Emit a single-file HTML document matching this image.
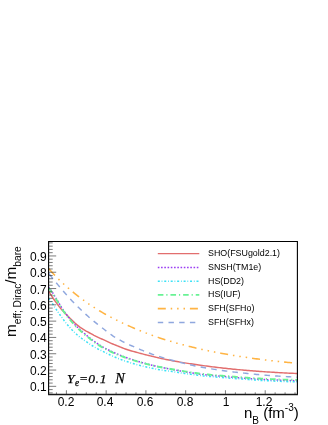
<!DOCTYPE html><html><head><meta charset="utf-8"><title>chart</title><style>
html,body{margin:0;padding:0;background:#fff;overflow:hidden}
html{width:328px;height:425px}
body{width:328px;height:425px;position:relative;overflow:hidden;font-family:"Liberation Sans",sans-serif;color:#000}
.t{position:absolute;white-space:nowrap;line-height:1;will-change:transform}
.xl{font-size:12px;transform:translateX(-50%);top:395.6px}
.yl{font-size:12px;right:281.6px}
.lg{font-size:8.9px;left:208.2px}

#w{position:absolute;left:0;top:0;width:328px;height:425px;overflow:hidden;background:#fff}
</style></head><body><div id="w">
<svg width="328" height="425" viewBox="0 0 328 425" style="position:absolute;left:0;top:0">
<rect x="0" y="0" width="328" height="425" fill="#fff"/>
<g>
<path d="M48.60,290.96 L50.16,293.57 L51.73,296.05 L53.29,298.51 L54.86,300.77 L56.42,302.92 L57.99,305.02 L59.55,307.04 L61.12,308.92 L62.68,310.69 L64.25,312.35 L65.81,313.93 L67.38,315.56 L68.94,317.19 L70.51,318.78 L72.07,320.30 L73.64,321.82 L75.20,323.29 L76.77,324.64 L78.33,325.86 L79.90,327.04 L81.46,328.15 L83.03,329.19 L84.59,330.14 L86.15,331.04 L87.72,331.89 L89.28,332.74 L90.85,333.58 L92.41,334.45 L93.98,335.29 L95.54,336.08 L97.11,336.84 L98.67,337.58 L100.24,338.31 L101.80,339.01 L103.37,339.71 L104.93,340.42 L106.50,341.16 L108.06,341.90 L109.63,342.61 L111.19,343.29 L112.76,343.96 L114.32,344.61 L115.89,345.25 L117.45,345.88 L119.02,346.51 L120.58,347.14 L122.14,347.76 L123.71,348.37 L125.27,348.95 L126.84,349.50 L128.40,350.01 L129.97,350.49 L131.53,350.95 L133.10,351.39 L134.66,351.82 L136.23,352.24 L137.79,352.66 L139.36,353.08 L140.92,353.50 L142.49,353.92 L144.05,354.33 L145.62,354.73 L147.18,355.13 L148.75,355.52 L150.31,355.91 L151.88,356.29 L153.44,356.66 L155.01,357.03 L156.57,357.39 L158.13,357.74 L159.70,358.09 L161.26,358.44 L162.83,358.77 L164.39,359.11 L165.96,359.43 L167.52,359.75 L169.09,360.07 L170.65,360.37 L172.22,360.68 L173.78,360.97 L175.35,361.26 L176.91,361.55 L178.48,361.83 L180.04,362.10 L181.61,362.36 L183.17,362.62 L184.74,362.87 L186.30,363.12 L187.87,363.36 L189.43,363.60 L190.99,363.83 L192.56,364.06 L194.12,364.29 L195.69,364.52 L197.25,364.75 L198.82,364.97 L200.38,365.20 L201.95,365.42 L203.51,365.64 L205.08,365.86 L206.64,366.07 L208.21,366.28 L209.77,366.48 L211.34,366.68 L212.90,366.88 L214.47,367.07 L216.03,367.27 L217.60,367.45 L219.16,367.64 L220.73,367.82 L222.29,368.00 L223.86,368.17 L225.42,368.34 L226.98,368.51 L228.55,368.68 L230.11,368.84 L231.68,369.00 L233.24,369.16 L234.81,369.31 L236.37,369.46 L237.94,369.61 L239.50,369.76 L241.07,369.90 L242.63,370.04 L244.20,370.18 L245.76,370.32 L247.33,370.45 L248.89,370.58 L250.46,370.71 L252.02,370.83 L253.59,370.95 L255.15,371.07 L256.72,371.19 L258.28,371.31 L259.85,371.42 L261.41,371.53 L262.97,371.64 L264.54,371.75 L266.10,371.85 L267.67,371.96 L269.23,372.06 L270.80,372.15 L272.36,372.25 L273.93,372.34 L275.49,372.44 L277.06,372.52 L278.62,372.61 L280.19,372.70 L281.75,372.78 L283.32,372.86 L284.88,372.94 L286.45,373.02 L288.01,373.10 L289.58,373.17 L291.14,373.25 L292.71,373.32 L294.27,373.39 L295.84,373.45 L297.40,373.52" fill="none" stroke="#e26e6e" stroke-width="1.45"/>
<path d="M48.60,287.11 L50.16,289.06 L51.73,291.31 L53.29,293.73 L54.86,296.27 L56.42,298.86 L57.99,301.46 L59.55,304.07 L61.12,306.67 L62.68,309.19 L64.25,311.54 L65.81,313.70 L67.38,315.72 L68.94,317.66 L70.51,319.58 L72.07,321.45 L73.64,323.26 L75.20,324.98 L76.77,326.62 L78.33,328.14 L79.90,329.52 L81.46,330.89 L83.03,332.31 L84.59,333.68 L86.15,335.00 L87.72,336.26 L89.28,337.50 L90.85,338.74 L92.41,339.98 L93.98,341.17 L95.54,342.29 L97.11,343.39 L98.67,344.45 L100.24,345.46 L101.80,346.43 L103.37,347.32 L104.93,348.16 L106.50,348.97 L108.06,349.76 L109.63,350.52 L111.19,351.26 L112.76,351.99 L114.32,352.70 L115.89,353.41 L117.45,354.09 L119.02,354.74 L120.58,355.37 L122.14,355.99 L123.71,356.59 L125.27,357.17 L126.84,357.74 L128.40,358.29 L129.97,358.84 L131.53,359.36 L133.10,359.88 L134.66,360.39 L136.23,360.88 L137.79,361.36 L139.36,361.82 L140.92,362.27 L142.49,362.71 L144.05,363.14 L145.62,363.56 L147.18,363.98 L148.75,364.38 L150.31,364.78 L151.88,365.17 L153.44,365.55 L155.01,365.92 L156.57,366.29 L158.13,366.65 L159.70,366.99 L161.26,367.32 L162.83,367.64 L164.39,367.95 L165.96,368.25 L167.52,368.55 L169.09,368.85 L170.65,369.14 L172.22,369.44 L173.78,369.74 L175.35,370.03 L176.91,370.32 L178.48,370.60 L180.04,370.89 L181.61,371.16 L183.17,371.44 L184.74,371.71 L186.30,371.98 L187.87,372.24 L189.43,372.49 L190.99,372.75 L192.56,373.00 L194.12,373.24 L195.69,373.48 L197.25,373.71 L198.82,373.94 L200.38,374.16 L201.95,374.37 L203.51,374.56 L205.08,374.74 L206.64,374.92 L208.21,375.09 L209.77,375.25 L211.34,375.41 L212.90,375.56 L214.47,375.71 L216.03,375.86 L217.60,375.99 L219.16,376.11 L220.73,376.23 L222.29,376.34 L223.86,376.46 L225.42,376.58 L226.98,376.71 L228.55,376.85 L230.11,377.00 L231.68,377.14 L233.24,377.28 L234.81,377.41 L236.37,377.55 L237.94,377.68 L239.50,377.81 L241.07,377.94 L242.63,378.06 L244.20,378.18 L245.76,378.30 L247.33,378.42 L248.89,378.54 L250.46,378.65 L252.02,378.76 L253.59,378.87 L255.15,378.97 L256.72,379.07 L258.28,379.17 L259.85,379.26 L261.41,379.35 L262.97,379.44 L264.54,379.53 L266.10,379.61 L267.67,379.69 L269.23,379.77 L270.80,379.84 L272.36,379.91 L273.93,379.98 L275.49,380.05 L277.06,380.11 L278.62,380.18 L280.19,380.24 L281.75,380.29 L283.32,380.35 L284.88,380.40 L286.45,380.45 L288.01,380.49 L289.58,380.54 L291.14,380.58 L292.71,380.62 L294.27,380.65 L295.84,380.69 L297.40,380.72" fill="none" stroke="#9a3cf2" stroke-width="1.5" stroke-dasharray="1.6 1.65"/>
<path d="M48.60,298.16 L50.16,300.29 L51.73,302.56 L53.29,304.90 L54.86,307.27 L56.42,309.64 L57.99,311.97 L59.55,314.26 L61.12,316.50 L62.68,318.67 L64.25,320.76 L65.81,322.75 L67.38,324.66 L68.94,326.48 L70.51,328.24 L72.07,329.92 L73.64,331.53 L75.20,333.08 L76.77,334.51 L78.33,335.83 L79.90,337.07 L81.46,338.27 L83.03,339.45 L84.59,340.57 L86.15,341.65 L87.72,342.69 L89.28,343.72 L90.85,344.74 L92.41,345.75 L93.98,346.73 L95.54,347.66 L97.11,348.53 L98.67,349.35 L100.24,350.13 L101.80,350.88 L103.37,351.63 L104.93,352.40 L106.50,353.18 L108.06,353.96 L109.63,354.72 L111.19,355.45 L112.76,356.16 L114.32,356.85 L115.89,357.52 L117.45,358.17 L119.02,358.78 L120.58,359.38 L122.14,359.95 L123.71,360.51 L125.27,361.05 L126.84,361.57 L128.40,362.08 L129.97,362.58 L131.53,363.07 L133.10,363.54 L134.66,364.00 L136.23,364.45 L137.79,364.88 L139.36,365.29 L140.92,365.69 L142.49,366.07 L144.05,366.45 L145.62,366.82 L147.18,367.17 L148.75,367.52 L150.31,367.86 L151.88,368.19 L153.44,368.52 L155.01,368.83 L156.57,369.14 L158.13,369.43 L159.70,369.70 L161.26,369.96 L162.83,370.19 L164.39,370.42 L165.96,370.65 L167.52,370.87 L169.09,371.10 L170.65,371.33 L172.22,371.58 L173.78,371.83 L175.35,372.07 L176.91,372.31 L178.48,372.55 L180.04,372.79 L181.61,373.03 L183.17,373.26 L184.74,373.48 L186.30,373.71 L187.87,373.93 L189.43,374.14 L190.99,374.36 L192.56,374.56 L194.12,374.77 L195.69,374.97 L197.25,375.16 L198.82,375.35 L200.38,375.54 L201.95,375.72 L203.51,375.88 L205.08,376.04 L206.64,376.20 L208.21,376.34 L209.77,376.48 L211.34,376.62 L212.90,376.75 L214.47,376.88 L216.03,377.01 L217.60,377.14 L219.16,377.26 L220.73,377.39 L222.29,377.52 L223.86,377.66 L225.42,377.78 L226.98,377.91 L228.55,378.03 L230.11,378.15 L231.68,378.27 L233.24,378.39 L234.81,378.51 L236.37,378.63 L237.94,378.74 L239.50,378.86 L241.07,378.98 L242.63,379.09 L244.20,379.21 L245.76,379.34 L247.33,379.46 L248.89,379.58 L250.46,379.70 L252.02,379.82 L253.59,379.93 L255.15,380.05 L256.72,380.16 L258.28,380.26 L259.85,380.36 L261.41,380.46 L262.97,380.55 L264.54,380.63 L266.10,380.72 L267.67,380.80 L269.23,380.88 L270.80,380.96 L272.36,381.03 L273.93,381.11 L275.49,381.18 L277.06,381.24 L278.62,381.31 L280.19,381.37 L281.75,381.43 L283.32,381.49 L284.88,381.55 L286.45,381.60 L288.01,381.65 L289.58,381.70 L291.14,381.74 L292.71,381.78 L294.27,381.82 L295.84,381.86 L297.40,381.89" fill="none" stroke="#3ce2f6" stroke-width="1.5" stroke-dasharray="2 1.8 0.8 1.85"/>
<path d="M48.60,288.01 L50.16,289.96 L51.73,292.19 L53.29,294.62 L54.86,297.15 L56.42,299.73 L57.99,302.32 L59.55,304.93 L61.12,307.53 L62.68,310.03 L64.25,312.38 L65.81,314.53 L67.38,316.55 L68.94,318.49 L70.51,320.39 L72.07,322.26 L73.64,324.06 L75.20,325.78 L76.77,327.41 L78.33,328.92 L79.90,330.30 L81.46,331.67 L83.03,333.08 L84.59,334.44 L86.15,335.75 L87.72,337.01 L89.28,338.24 L90.85,339.48 L92.41,340.70 L93.98,341.89 L95.54,343.01 L97.11,344.10 L98.67,345.15 L100.24,346.16 L101.80,347.11 L103.37,347.98 L104.93,348.80 L106.50,349.59 L108.06,350.36 L109.63,351.11 L111.19,351.83 L112.76,352.53 L114.32,353.23 L115.89,353.92 L117.45,354.58 L119.02,355.21 L120.58,355.83 L122.14,356.42 L123.71,357.00 L125.27,357.57 L126.84,358.12 L128.40,358.65 L129.97,359.18 L131.53,359.69 L133.10,360.19 L134.66,360.67 L136.23,361.14 L137.79,361.60 L139.36,362.05 L140.92,362.48 L142.49,362.90 L144.05,363.31 L145.62,363.72 L147.18,364.11 L148.75,364.49 L150.31,364.87 L151.88,365.24 L153.44,365.61 L155.01,365.96 L156.57,366.31 L158.13,366.65 L159.70,366.98 L161.26,367.29 L162.83,367.59 L164.39,367.88 L165.96,368.16 L167.52,368.44 L169.09,368.72 L170.65,368.99 L172.22,369.27 L173.78,369.55 L175.35,369.83 L176.91,370.10 L178.48,370.36 L180.04,370.63 L181.61,370.89 L183.17,371.14 L184.74,371.39 L186.30,371.64 L187.87,371.88 L189.43,372.12 L190.99,372.36 L192.56,372.59 L194.12,372.81 L195.69,373.03 L197.25,373.25 L198.82,373.46 L200.38,373.66 L201.95,373.86 L203.51,374.05 L205.08,374.22 L206.64,374.39 L208.21,374.56 L209.77,374.71 L211.34,374.86 L212.90,375.01 L214.47,375.16 L216.03,375.30 L217.60,375.42 L219.16,375.54 L220.73,375.65 L222.29,375.75 L223.86,375.86 L225.42,375.98 L226.98,376.10 L228.55,376.24 L230.11,376.38 L231.68,376.51 L233.24,376.64 L234.81,376.77 L236.37,376.90 L237.94,377.03 L239.50,377.15 L241.07,377.27 L242.63,377.39 L244.20,377.51 L245.76,377.62 L247.33,377.73 L248.89,377.84 L250.46,377.95 L252.02,378.06 L253.59,378.16 L255.15,378.26 L256.72,378.36 L258.28,378.45 L259.85,378.54 L261.41,378.63 L262.97,378.71 L264.54,378.80 L266.10,378.88 L267.67,378.95 L269.23,379.03 L270.80,379.10 L272.36,379.17 L273.93,379.23 L275.49,379.30 L277.06,379.36 L278.62,379.42 L280.19,379.47 L281.75,379.53 L283.32,379.58 L284.88,379.62 L286.45,379.67 L288.01,379.71 L289.58,379.75 L291.14,379.79 L292.71,379.83 L294.27,379.86 L295.84,379.89 L297.40,379.92" fill="none" stroke="#68f294" stroke-width="1.9" stroke-dasharray="5.6 2.9 1.2 2.95"/>
<path d="M48.60,268.46 L50.16,270.26 L51.73,272.01 L53.29,273.72 L54.86,275.39 L56.42,277.01 L57.99,278.59 L59.55,280.13 L61.12,281.62 L62.68,283.09 L64.25,284.53 L65.81,285.94 L67.38,287.33 L68.94,288.69 L70.51,290.02 L72.07,291.33 L73.64,292.62 L75.20,293.88 L76.77,295.13 L78.33,296.35 L79.90,297.54 L81.46,298.72 L83.03,299.87 L84.59,301.00 L86.15,302.11 L87.72,303.20 L89.28,304.27 L90.85,305.32 L92.41,306.34 L93.98,307.36 L95.54,308.35 L97.11,309.33 L98.67,310.29 L100.24,311.23 L101.80,312.16 L103.37,313.07 L104.93,313.96 L106.50,314.84 L108.06,315.70 L109.63,316.55 L111.19,317.38 L112.76,318.20 L114.32,319.00 L115.89,319.79 L117.45,320.57 L119.02,321.34 L120.58,322.10 L122.14,322.84 L123.71,323.57 L125.27,324.30 L126.84,325.01 L128.40,325.71 L129.97,326.41 L131.53,327.09 L133.10,327.77 L134.66,328.44 L136.23,329.09 L137.79,329.74 L139.36,330.38 L140.92,331.01 L142.49,331.63 L144.05,332.24 L145.62,332.85 L147.18,333.44 L148.75,334.03 L150.31,334.61 L151.88,335.18 L153.44,335.74 L155.01,336.29 L156.57,336.83 L158.13,337.37 L159.70,337.90 L161.26,338.42 L162.83,338.93 L164.39,339.43 L165.96,339.92 L167.52,340.41 L169.09,340.89 L170.65,341.36 L172.22,341.82 L173.78,342.28 L175.35,342.72 L176.91,343.16 L178.48,343.60 L180.04,344.02 L181.61,344.44 L183.17,344.86 L184.74,345.27 L186.30,345.67 L187.87,346.07 L189.43,346.46 L190.99,346.84 L192.56,347.22 L194.12,347.60 L195.69,347.96 L197.25,348.33 L198.82,348.69 L200.38,349.04 L201.95,349.39 L203.51,349.73 L205.08,350.07 L206.64,350.40 L208.21,350.73 L209.77,351.06 L211.34,351.37 L212.90,351.69 L214.47,352.00 L216.03,352.31 L217.60,352.61 L219.16,352.90 L220.73,353.20 L222.29,353.49 L223.86,353.77 L225.42,354.05 L226.98,354.33 L228.55,354.60 L230.11,354.87 L231.68,355.13 L233.24,355.39 L234.81,355.65 L236.37,355.90 L237.94,356.15 L239.50,356.40 L241.07,356.64 L242.63,356.88 L244.20,357.11 L245.76,357.35 L247.33,357.57 L248.89,357.80 L250.46,358.02 L252.02,358.24 L253.59,358.45 L255.15,358.66 L256.72,358.87 L258.28,359.08 L259.85,359.28 L261.41,359.48 L262.97,359.68 L264.54,359.87 L266.10,360.06 L267.67,360.25 L269.23,360.43 L270.80,360.62 L272.36,360.80 L273.93,360.97 L275.49,361.15 L277.06,361.32 L278.62,361.49 L280.19,361.65 L281.75,361.82 L283.32,361.98 L284.88,362.14 L286.45,362.30 L288.01,362.45 L289.58,362.60 L291.14,362.75 L292.71,362.90 L294.27,363.04 L295.84,363.18 L297.40,363.32" fill="none" stroke="#ffb444" stroke-width="1.55" stroke-dasharray="9.5 4.94 1.5 4.94 1.5 4.94 1.5 4.94 8 4.94 1.5 4.94 1.5 4.94 1.5 4.94 8 4.94 1.5 4.94 1.5 4.94 1.5 4.94 8 4.94 1.5 4.94 1.5 4.94 1.5 4.94 8 4.94 1.5 4.94 1.5 4.94 1.5 4.94 8 4.94 1.5 4.94 1.5 4.94 1.5 4.94 8 4.94 1.5 4.94 1.5 4.94 1.5 4.94 8 4.94 1.5 4.94 1.5 4.94 1.5 4.94 8 4.94 1.5 4.94 1.5 4.94 1.5 4.94 8 4.94 1.5 4.94 1.5 4.94 1.5 4.94 8 4.94 1.5 4.94 1.5 4.94 1.5 4.94 8 4.94 1.5 4.94 1.5 4.94 1.5 4.94 8"/>
<path d="M48.60,273.36 L50.16,275.31 L51.73,277.25 L53.29,279.18 L54.86,281.10 L56.42,283.01 L57.99,284.90 L59.55,286.77 L61.12,288.63 L62.68,290.46 L64.25,292.27 L65.81,294.05 L67.38,295.80 L68.94,297.53 L70.51,299.23 L72.07,300.90 L73.64,302.55 L75.20,304.16 L76.77,305.75 L78.33,307.30 L79.90,308.83 L81.46,310.33 L83.03,311.80 L84.59,313.24 L86.15,314.66 L87.72,316.06 L89.28,317.43 L90.85,318.77 L92.41,320.09 L93.98,321.38 L95.54,322.65 L97.11,323.90 L98.67,325.12 L100.24,326.32 L101.80,327.52 L103.37,328.75 L104.93,329.97 L106.50,331.19 L108.06,332.40 L109.63,333.57 L111.19,334.70 L112.76,335.78 L114.32,336.80 L115.89,337.75 L117.45,338.67 L119.02,339.57 L120.58,340.44 L122.14,341.29 L123.71,342.12 L125.27,342.92 L126.84,343.68 L128.40,344.39 L129.97,345.07 L131.53,345.73 L133.10,346.39 L134.66,347.07 L136.23,347.77 L137.79,348.46 L139.36,349.14 L140.92,349.80 L142.49,350.45 L144.05,351.09 L145.62,351.71 L147.18,352.32 L148.75,352.92 L150.31,353.50 L151.88,354.06 L153.44,354.61 L155.01,355.15 L156.57,355.67 L158.13,356.18 L159.70,356.67 L161.26,357.16 L162.83,357.63 L164.39,358.10 L165.96,358.56 L167.52,359.01 L169.09,359.45 L170.65,359.88 L172.22,360.31 L173.78,360.74 L175.35,361.16 L176.91,361.57 L178.48,361.98 L180.04,362.38 L181.61,362.78 L183.17,363.16 L184.74,363.54 L186.30,363.92 L187.87,364.28 L189.43,364.64 L190.99,364.99 L192.56,365.33 L194.12,365.67 L195.69,365.99 L197.25,366.31 L198.82,366.62 L200.38,366.92 L201.95,367.22 L203.51,367.50 L205.08,367.78 L206.64,368.06 L208.21,368.33 L209.77,368.59 L211.34,368.85 L212.90,369.10 L214.47,369.35 L216.03,369.59 L217.60,369.83 L219.16,370.06 L220.73,370.29 L222.29,370.51 L223.86,370.72 L225.42,370.94 L226.98,371.14 L228.55,371.35 L230.11,371.54 L231.68,371.74 L233.24,371.93 L234.81,372.11 L236.37,372.29 L237.94,372.47 L239.50,372.64 L241.07,372.81 L242.63,372.98 L244.20,373.15 L245.76,373.32 L247.33,373.49 L248.89,373.65 L250.46,373.82 L252.02,373.98 L253.59,374.13 L255.15,374.29 L256.72,374.44 L258.28,374.59 L259.85,374.73 L261.41,374.87 L262.97,375.00 L264.54,375.13 L266.10,375.26 L267.67,375.38 L269.23,375.50 L270.80,375.61 L272.36,375.72 L273.93,375.83 L275.49,375.94 L277.06,376.04 L278.62,376.15 L280.19,376.25 L281.75,376.34 L283.32,376.44 L284.88,376.53 L286.45,376.62 L288.01,376.70 L289.58,376.79 L291.14,376.87 L292.71,376.94 L294.27,377.02 L295.84,377.09 L297.40,377.17" fill="none" stroke="#8fa7de" stroke-width="1.45" stroke-dasharray="6.9 5.22 5.5 5.22 5.5 5.22 5.5 5.22 5.5 5.22 5.5 5.22 5.5 5.22 5.5 5.22 5.5 5.22 5.5 5.22 5.5 5.22 5.5 5.22 5.5 5.22 5.5 5.22 5.5 5.22 5.5 5.22 5.5 5.22 5.5 5.22 5.5 5.22 5.5 5.22 5.5 5.22 5.5 5.22 5.5 5.22 5.5 5.22 5.5 5.22 5.5 5.22 5.5 5.22 5.5 5.22 5.5 5.22 5.5 5.22 5.5 5.22 5.5 5.22 5.5 5.22 5.5 5.22 5.5 5.22 5.5 5.22 5.5 5.22 5.5 5.22 5.5 5.22 5.5 5.22 5.5"/>
<path d="M157.8,253.6 L199.3,253.6" fill="none" stroke="#e26e6e" stroke-width="1.45"/>
<path d="M157.8,267.4 L199.3,267.4" fill="none" stroke="#9a3cf2" stroke-width="1.5" stroke-dasharray="1.6 1.65"/>
<path d="M157.8,281.2 L199.3,281.2" fill="none" stroke="#3ce2f6" stroke-width="1.5" stroke-dasharray="2 1.8 0.8 1.85"/>
<path d="M157.8,294.9 L199.3,294.9" fill="none" stroke="#68f294" stroke-width="1.9" stroke-dasharray="5.6 2.9 1.2 2.95"/>
<path d="M157.8,308.6 L199.3,308.6" fill="none" stroke="#ffb444" stroke-width="1.55" stroke-dasharray="8 4.9 1.5 4.9 1.5 4.9 1.5 4.9"/>
<path d="M157.8,322.4 L199.3,322.4" fill="none" stroke="#8fa7de" stroke-width="1.45" stroke-dasharray="5.4 5.3"/>
<path d="M48.6,394.75 V241.45 H297.4 V394.75" fill="none" stroke="#000" stroke-width="1.1"/>
<path d="M48.050000000000004,394.59999999999997 H297.95" fill="none" stroke="#1a1a1a" stroke-width="1.5"/>
<path d="M56.46,394.15 V392.35 M66.40,394.15 V390.25 M76.34,394.15 V392.35 M86.28,394.15 V392.35 M96.22,394.15 V392.35 M106.16,394.15 V390.25 M116.10,394.15 V392.35 M126.04,394.15 V392.35 M135.98,394.15 V392.35 M145.92,394.15 V390.25 M155.86,394.15 V392.35 M165.80,394.15 V392.35 M175.74,394.15 V392.35 M185.68,394.15 V390.25 M195.62,394.15 V392.35 M205.56,394.15 V392.35 M215.50,394.15 V392.35 M225.44,394.15 V390.25 M235.38,394.15 V392.35 M245.32,394.15 V392.35 M255.26,394.15 V392.35 M265.20,394.15 V390.25 M275.14,394.15 V392.35 M285.08,394.15 V392.35 M295.02,394.15 V392.35 M48.6,392.86 H52.70 M48.6,389.60 H52.70 M48.6,386.34 H56.20 M48.6,383.08 H52.70 M48.6,379.82 H52.70 M48.6,376.56 H52.70 M48.6,373.30 H52.70 M48.6,370.04 H56.20 M48.6,366.78 H52.70 M48.6,363.52 H52.70 M48.6,360.26 H52.70 M48.6,357.00 H52.70 M48.6,353.74 H56.20 M48.6,350.48 H52.70 M48.6,347.22 H52.70 M48.6,343.96 H52.70 M48.6,340.70 H52.70 M48.6,337.44 H56.20 M48.6,334.18 H52.70 M48.6,330.92 H52.70 M48.6,327.66 H52.70 M48.6,324.40 H52.70 M48.6,321.14 H56.20 M48.6,317.88 H52.70 M48.6,314.62 H52.70 M48.6,311.36 H52.70 M48.6,308.10 H52.70 M48.6,304.84 H56.20 M48.6,301.58 H52.70 M48.6,298.32 H52.70 M48.6,295.06 H52.70 M48.6,291.80 H52.70 M48.6,288.54 H56.20 M48.6,285.28 H52.70 M48.6,282.02 H52.70 M48.6,278.76 H52.70 M48.6,275.50 H52.70 M48.6,272.24 H56.20 M48.6,268.98 H52.70 M48.6,265.72 H52.70 M48.6,262.46 H52.70 M48.6,259.20 H52.70 M48.6,255.94 H56.20 M48.6,252.68 H52.70 M48.6,249.42 H52.70 M48.6,246.16 H52.70 M48.6,242.90 H52.70" fill="none" stroke="#2a2a2a" stroke-width="0.62"/>
</g></svg>
<div class="t xl" style="left:65.5px">0.2</div>
<div class="t xl" style="left:105.4px">0.4</div>
<div class="t xl" style="left:145.0px">0.6</div>
<div class="t xl" style="left:185.4px">0.8</div>
<div class="t xl" style="left:225.6px">1</div>
<div class="t xl" style="left:263.9px">1.2</div>
<div class="t yl" style="top:381.3px">0.1</div>
<div class="t yl" style="top:365.0px">0.2</div>
<div class="t yl" style="top:348.7px">0.3</div>
<div class="t yl" style="top:332.4px">0.4</div>
<div class="t yl" style="top:316.1px">0.5</div>
<div class="t yl" style="top:299.8px">0.6</div>
<div class="t yl" style="top:283.5px">0.7</div>
<div class="t yl" style="top:267.2px">0.8</div>
<div class="t yl" style="top:250.9px">0.9</div>
<div class="t lg" style="top:249.0px">SHO(FSUgold2.1)</div>
<div class="t lg" style="top:262.8px">SNSH(TM1e)</div>
<div class="t lg" style="top:276.6px">HS(DD2)</div>
<div class="t lg" style="top:290.3px">HS(IUF)</div>
<div class="t lg" style="top:304.0px">SFH(SFHo)</div>
<div class="t lg" style="top:317.8px">SFH(SFHx)</div>
<div class="t" id="an" style="left:66.9px;top:371.1px;font-family:'Liberation Serif',serif;font-style:italic;font-size:13.5px;-webkit-text-stroke:0.25px #000">Y<span style="font-size:9.3px;position:relative;top:3px;margin-left:0.4px">e</span>=<span style="letter-spacing:0.7px">0.1</span>&nbsp;&nbsp;<span style="margin-left:1.4px;font-size:14.3px">N</span></div>
<div class="t" id="xt" style="left:244px;top:405px;font-size:15px">n<span style="font-size:10px;position:relative;top:5.5px">B</span> (fm<span style="font-size:10px;position:relative;top:-7.4px">-3</span>)</div>
<div class="t" id="yt" style="left:2.7px;top:336.5px;font-size:15.3px;transform-origin:0 0;transform:rotate(-90deg)">m<span style="font-size:10.2px;position:relative;top:5px">eff; Dirac</span>/m<span style="font-size:10.2px;position:relative;top:5px">bare</span></div>
</div></body></html>
